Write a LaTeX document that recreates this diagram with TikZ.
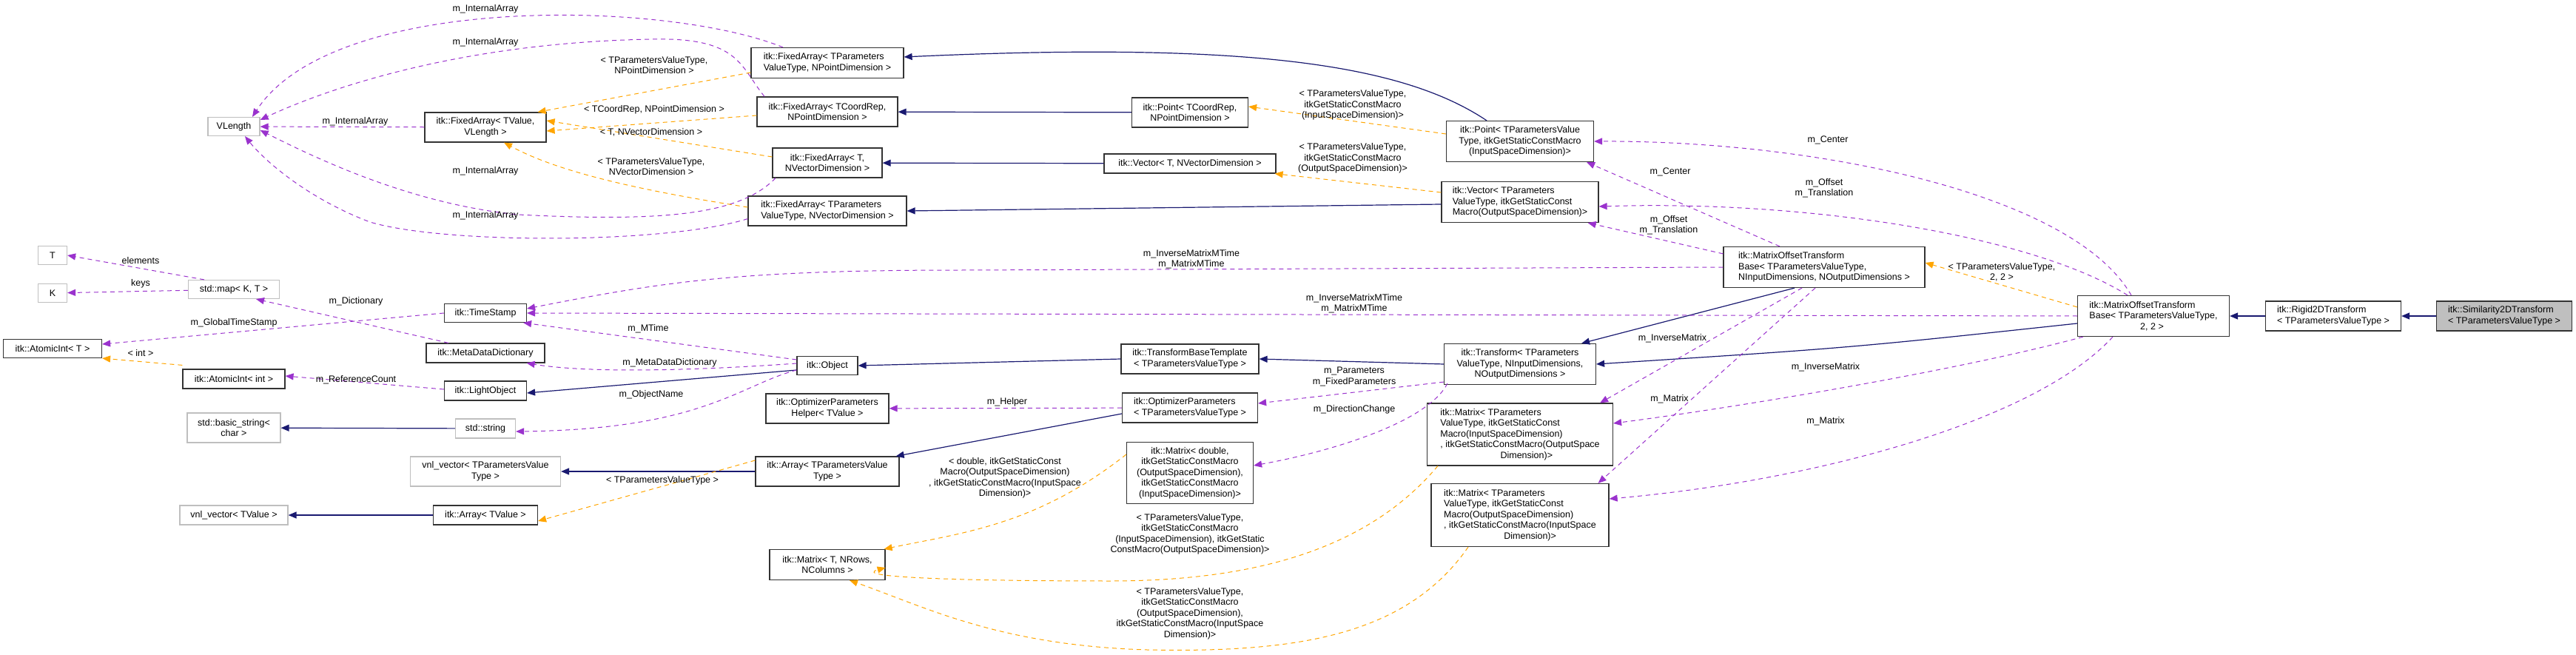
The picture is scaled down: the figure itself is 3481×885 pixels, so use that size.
\documentclass[tikz,border=0pt]{standalone}
\usepackage{fontspec}
\setmainfont{Liberation Sans}
\usetikzlibrary{arrows.meta}
\definecolor{purp}{HTML}{9A32CD}
\definecolor{orng}{HTML}{FFA500}
\definecolor{navy}{HTML}{191970}
\newcommand{\fs}{\fontsize{12.5}{14.5}\selectfont}
\tikzset{
 box/.style={draw=black!80, line width=1.2pt, fill=white, inner sep=1pt, align=center, font=\fs},
 lbox/.style={box, align=left},
 gbox/.style={box, draw=black!25},
 lbl/.style={font=\fs, align=center, inner sep=0pt},
 tip/.style={-{Triangle[length=11pt,width=9pt]}},
 uses/.style={tip, draw=purp, line width=1pt, dash pattern=on 6pt off 5pt},
 tmpl/.style={tip, draw=orng, line width=1pt, dash pattern=on 6pt off 5pt},
 inh/.style={tip, draw=navy, line width=1.2pt},
}
\begin{document}
\begin{tikzpicture}[x=1pt,y=-1pt]
\useasboundingbox (0,0) rectangle (3481,885);
% nodes
\node[gbox,minimum width=70,minimum height=25] (VL) at (316,171) {VLength};
\node[box,minimum width=164,minimum height=40] (FAV) at (656,172) {itk::FixedArray< TValue,\\ VLength >};
\node[gbox,minimum width=39,minimum height=25] (T) at (71,345) {T};
\node[gbox,minimum width=39,minimum height=25] (K) at (71,396) {K};
\node[gbox,minimum width=123,minimum height=25] (MAP) at (316,391) {std::map< K, T >};
\node[box,minimum width=111,minimum height=25] (TS) at (656,423) {itk::TimeStamp};
\node[box,minimum width=133,minimum height=25] (AIT) at (71,471) {itk::AtomicInt< T >};
\node[box,minimum width=160,minimum height=26] (MDD) at (656,477) {itk::MetaDataDictionary};
\node[box,minimum width=138,minimum height=26] (AII) at (316,512) {itk::AtomicInt< int >};
\node[box,minimum width=111,minimum height=26] (LO) at (656,528) {itk::LightObject};
\node[gbox,minimum width=126,minimum height=40] (BS) at (316,578) {std::basic\_string<\\ char >};
\node[gbox,minimum width=81,minimum height=26] (SS) at (656,579) {std::string};
\node[gbox,minimum width=203,minimum height=40] (VVP) at (656,637) {vnl\_vector< TParametersValue\\ Type >};
\node[gbox,minimum width=146,minimum height=26] (VVT) at (316,696) {vnl\_vector< TValue >};
\node[box,minimum width=141,minimum height=26] (ATV) at (656,696) {itk::Array< TValue >};
\node[lbox,minimum width=206,minimum height=41] (FAPP) at (1118,85) {itk::FixedArray< TParameters\\ValueType, NPointDimension >};
\node[box,minimum width=190,minimum height=40] (FACR) at (1118,151) {itk::FixedArray< TCoordRep,\\ NPointDimension >};
\node[box,minimum width=157,minimum height=40] (PCR) at (1608,152) {itk::Point< TCoordRep,\\ NPointDimension >};
\node[box,minimum width=148,minimum height=40] (FATV) at (1118,220) {itk::FixedArray< T,\\ NVectorDimension >};
\node[box,minimum width=232,minimum height=26] (VT) at (1608,221) {itk::Vector< T, NVectorDimension >};
\node[lbox,minimum width=214,minimum height=40] (FAPV) at (1118,285) {itk::FixedArray< TParameters\\ValueType, NVectorDimension >};
\node[box,minimum width=82,minimum height=25] (OBJ) at (1118,494) {itk::Object};
\node[box,minimum width=186,minimum height=40] (TBT) at (1608,485) {itk::TransformBaseTemplate\\< TParametersValueType >};
\node[box,minimum width=166,minimum height=40] (OPH) at (1118,552) {itk::OptimizerParameters\\Helper< TValue >};
\node[lbox,minimum width=183,minimum height=40] (OP) at (1608,551) {itk::OptimizerParameters\\< TParametersValueType >};
\node[box,minimum width=194,minimum height=40] (ATP) at (1118,637) {itk::Array< TParametersValue\\ Type >};
\node[box,minimum width=171,minimum height=83] (MD) at (1608,639) {itk::Matrix< double,\\ itkGetStaticConstMacro\\(OutputSpaceDimension),\\ itkGetStaticConstMacro\\(InputSpaceDimension)>};
\node[box,minimum width=156,minimum height=41] (MT) at (1118,763) {itk::Matrix< T, NRows,\\ NColumns >};
\node[box,minimum width=199,minimum height=55] (PTP) at (2054,191) {itk::Point< TParametersValue\\Type, itkGetStaticConstMacro\\(InputSpaceDimension)>};
\node[lbox,minimum width=212,minimum height=55] (VTP) at (2054,273) {itk::Vector< TParameters\\ValueType, itkGetStaticConst\\Macro(OutputSpaceDimension)>};
\node[lbox,minimum width=272,minimum height=55] (MON) at (2465,361) {itk::MatrixOffsetTransform\\Base< TParametersValueType,\\ NInputDimensions, NOutputDimensions >};
\node[box,minimum width=205,minimum height=55] (TR) at (2054,492) {itk::Transform< TParameters\\ValueType, NInputDimensions,\\ NOutputDimensions >};
\node[lbox,minimum width=251,minimum height=84] (MIO) at (2054,587) {itk::Matrix< TParameters\\ValueType, itkGetStaticConst\\Macro(InputSpaceDimension)\\, itkGetStaticConstMacro(OutputSpace\\\hspace*{6.5em}Dimension)>};
\node[lbox,minimum width=240,minimum height=85] (MOI) at (2054,696) {itk::Matrix< TParameters\\ValueType, itkGetStaticConst\\Macro(OutputSpaceDimension)\\, itkGetStaticConstMacro(InputSpace\\\hspace*{6.5em}Dimension)>};
\node[lbox,minimum width=205,minimum height=55] (M22) at (2910,427) {itk::MatrixOffsetTransform\\Base< TParametersValueType,\\\hspace*{5.5em}2, 2 >};
\node[lbox,minimum width=183,minimum height=40] (RIG) at (3153,427) {itk::Rigid2DTransform\\< TParametersValueType >};
\node[lbox,minimum width=183,minimum height=40,fill=black!25] (SIM) at (3384,427) {itk::Similarity2DTransform\\< TParametersValueType >};

% inheritance
\draw[inh] (SIM) -- (RIG);
\draw[inh] (RIG) -- (M22);
\draw[inh] ([yshift=-10pt]M22.west) .. controls (2500,470) .. (TR.east);
\draw[inh] ([xshift=-40pt]MON.south) -- ([xshift=-20pt]TR.north east);
\draw[inh] (TR.west) -- (TBT.east);
\draw[inh] (TBT.west) -- (OBJ.east);
\draw[inh] ([yshift=-6pt]OBJ.west) -- ([yshift=-3pt]LO.east);
\draw[inh] (SS) -- (BS);
\draw[inh] (ATV) -- (VVT);
\draw[inh] ([yshift=-8pt]OP.west) -- ([xshift=-5pt]ATP.north east);
\draw[inh] (ATP) -- (VVP);
\draw[inh] ([xshift=-45pt]PTP.north) .. controls (1900,90) and (1700,55) .. ([yshift=8pt]FAPP.east);
\draw[inh] (PCR) -- (FACR);
\draw[inh] (VT) -- (FATV);
\draw[inh] ([yshift=-3pt]VTP.west) -- (FAPV.east);

% purple uses
\draw[uses] ([xshift=-60pt]FAPP.north) .. controls (900,0) and (450,-10) .. ([xshift=25pt]VL.north);
\node[lbl] (l1) at (656,12) {m\_InternalArray};
\draw[uses] ([xshift=-85pt]FACR.north) .. controls (1000,90) and (1000,50) .. (880,53) .. controls (600,58) and (420,130) .. ([yshift=9pt]VL.east);
\node[lbl] (l2) at (656,57) {m\_InternalArray};
\draw[uses] (FAV) -- (VL);
\node[lbl] (l3) at (480,164) {m\_InternalArray};
\draw[uses] ([xshift=-70pt]FATV.south) .. controls (1000,290) and (900,300) .. (700,290) .. controls (550,275) and (420,210) .. ([yshift=-5pt]VL.east);
\node[lbl] (l4) at (656,231) {m\_InternalArray};
\draw[uses] ([yshift=10pt]FAPV.south west) .. controls (900,330) and (600,330) .. (500,300) .. controls (420,270) and (360,220) .. ([xshift=15pt]VL.south);
\node[lbl] (l5) at (656,291) {m\_InternalArray};
\draw[uses] ([xshift=-40pt]MAP.north) -- (T.east);
\node[lbl] (l6) at (190,352) {elements};
\draw[uses] (MAP) -- (K);
\node[lbl] (l7) at (190,383) {keys};
\draw[uses] (TS.west) -- ([yshift=6pt]AIT.east);
\node[lbl] (l8) at (316,436) {m\_GlobalTimeStamp};
\draw[uses] ([xshift=-50pt]MDD.north) -- ([xshift=30pt]MAP.south);
\node[lbl] (l9) at (481,407) {m\_Dictionary};
\draw[uses] ([yshift=8pt]OBJ.west) -- ([xshift=-5pt]TS.south east);
\node[lbl] (l10) at (876,444) {m\_MTime};
\draw[uses] ([yshift=3pt]OBJ.west) .. controls (950,500) and (800,505) .. ([xshift=-25pt]MDD.south east);
\node[lbl] (l11) at (905,490) {m\_MetaDataDictionary};
\draw[uses] ([yshift=-6pt]OBJ.west) .. controls (1000,520) and (950,580) .. ([yshift=-4pt]SS.east);
\node[lbl] (l12) at (880,533) {m\_ObjectName};
\draw[uses] ([yshift=2pt]LO.west) -- ([yshift=4pt]AII.east);
\node[lbl] (l13) at (481,513) {m\_ReferenceCount};
\draw[uses] (OP) -- (OPH);
\node[lbl] (l14) at (1361,543) {m\_Helper};
\draw[uses] (MON.west) -- (1300,365) .. controls (1000,365) and (900,380) .. ([yshift=6pt]TS.east);
\node[lbl] (l15) at (1610,350) {m\_InverseMatrixMTime\\m\_MatrixMTime};
\draw[uses] (M22.west) -- (TS.east);
\node[lbl] (l16) at (1830,410) {m\_InverseMatrixMTime\\m\_MatrixMTime};
\draw[uses] ([xshift=-60pt]MON.north) -- ([xshift=-10pt]PTP.south east);
\node[lbl] (l17) at (2257,232) {m\_Center};
\draw[uses] ([xshift=-30pt]M22.north) .. controls (2800,260) and (2450,190) .. (PTP.east);
\node[lbl] (l18) at (2470,189) {m\_Center};
\draw[uses] ([yshift=-10pt]MON.north west) -- ([xshift=-15pt]VTP.south east);
\node[lbl] (l19) at (2255,304) {m\_Offset\\m\_Translation};
\draw[uses] ([xshift=-35pt]M22.north) .. controls (2750,320) and (2450,270) .. ([yshift=-6pt]VTP.east);
\node[lbl] (l20) at (2465,254) {m\_Offset\\m\_Translation};
\draw[uses] ([yshift=4pt]TR.south west) -- ([yshift=6pt]OP.east);
\node[lbl] (l21) at (1830,509) {m\_Parameters\\m\_FixedParameters};
\draw[uses] ([xshift=5pt,yshift=2pt]TR.south west) .. controls (1930,570) and (1800,610) .. ([yshift=10pt]MD.east);
\node[lbl] (l22) at (1830,553) {m\_DirectionChange};
\draw[uses] ([xshift=-30pt]MON.south) -- ([xshift=-18pt]MIO.north east);
\node[lbl] (l23) at (2260,457) {m\_InverseMatrix};
\draw[uses] ([xshift=-12pt]MON.south) -- ([xshift=-15pt]MOI.north east);
\node[lbl] (l24) at (2256,539) {m\_Matrix};
\draw[uses] ([xshift=8pt]M22.south west) .. controls (2650,500) and (2350,550) .. ([yshift=15pt]MIO.east);
\node[lbl] (l25) at (2467,496) {m\_InverseMatrix};
\draw[uses] ([xshift=-55pt]M22.south) .. controls (2750,570) and (2450,650) .. ([yshift=22pt]MOI.east);
\node[lbl] (l26) at (2467,569) {m\_Matrix};

% orange templates
\draw[tmpl] ([yshift=-13pt]FAPP.west) -- ([xshift=-12pt]FAV.north east);
\node[lbl] (l27) at (884,88) {< TParametersValueType,\\ NPointDimension >};
\draw[tmpl] ([yshift=-5pt]FACR.west) -- ([yshift=-5pt]FAV.east);
\node[lbl] (l28) at (884,148) {< TCoordRep, NPointDimension >};
\draw[tmpl] ([yshift=8pt]FATV.west) -- ([yshift=9pt]FAV.east);
\node[lbl] (l29) at (880,179) {< T, NVectorDimension >};
\draw[tmpl] ([yshift=5pt]FAPV.west) .. controls (850,255) and (750,230) .. ([xshift=25pt]FAV.south);
\node[lbl] (l30) at (880,225) {< TParametersValueType,\\ NVectorDimension >};
\draw[tmpl] ([yshift=10pt]PTP.west) -- ([yshift=8pt]PCR.east);
\node[lbl] (l31) at (1828,142) {< TParametersValueType,\\ itkGetStaticConstMacro\\ (InputSpaceDimension)>};
\draw[tmpl] ([yshift=13pt]VTP.west) -- ([xshift=-2pt]VT.south east);
\node[lbl] (l32) at (1828,214) {< TParametersValueType,\\ itkGetStaticConstMacro\\ (OutputSpaceDimension)>};
\draw[tmpl] ([yshift=15pt]ATP.west) -- ([yshift=-8pt]ATV.east);
\node[lbl] (l33) at (895,649) {< TParametersValueType >};
\draw[tmpl] ([yshift=25pt]MD.west) .. controls (1400,710) and (1300,720) .. ([xshift=-2pt]MT.north east);
\node[lbl] (l34) at (1358,646) {< double, itkGetStaticConst\\ Macro(OutputSpaceDimension)\\, itkGetStaticConstMacro(InputSpace\\ Dimension)>};
\draw[tmpl] ([xshift=15pt]MIO.south west) .. controls (1850,740) and (1700,785) .. (1500,785) .. controls (1300,785) and (1150,780) .. ([yshift=-4pt]MT.east);
\node[lbl] (l35) at (1608,722) {< TParametersValueType,\\ itkGetStaticConstMacro\\ (InputSpaceDimension), itkGetStatic\\ ConstMacro(OutputSpaceDimension)>};
\draw[tmpl] ([xshift=-70pt]MOI.south) .. controls (1900,860) and (1750,882) .. (1550,878) .. controls (1350,872) and (1250,820) .. ([xshift=30pt]MT.south);
\node[lbl] (l36) at (1608,829) {< TParametersValueType,\\ itkGetStaticConstMacro\\ (OutputSpaceDimension),\\ itkGetStaticConstMacro(InputSpace\\ Dimension)>};
\draw[tmpl] ([yshift=-16pt]M22.north west) -- ([yshift=6pt]MON.east);
\node[lbl] (l37) at (2705,368) {< TParametersValueType,\\ 2, 2 >};
\draw[tmpl] ([yshift=5pt]AII.north west) -- (AIT.south east);
\node[lbl] (l38) at (190,477) {< int >};
\end{tikzpicture}
\end{document}
